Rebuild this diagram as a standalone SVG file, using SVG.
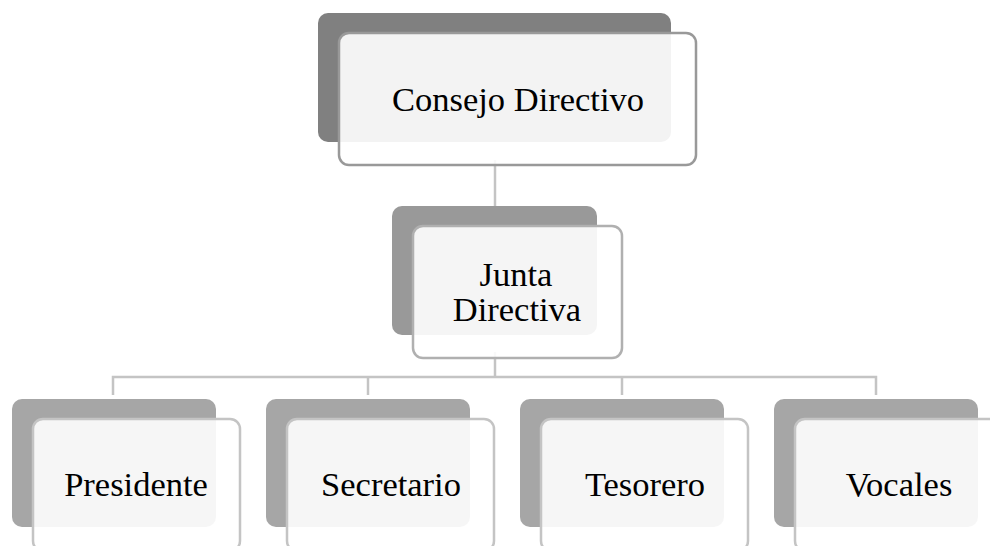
<svg xmlns="http://www.w3.org/2000/svg" width="990" height="546" viewBox="0 0 990 546">
<style>
.conn{fill:none;stroke:#c4c4c4;stroke-width:2.5}
.front{fill:#ffffff;fill-opacity:0.9;stroke-width:2.5}
.lbl{font-family:"Liberation Serif","Times New Roman",serif;font-size:34.5px;fill:#000;text-anchor:middle}
</style>
<rect width="990" height="546" fill="#ffffff"/>
<g id="connectors">
<line class="conn" x1="495" y1="160" x2="495" y2="210"/>
<polyline class="conn" points="495,352 495,377"/>
<polyline class="conn" points="113,395 113,377 876,377 876,395"/>
<line class="conn" x1="368" y1="377" x2="368" y2="395"/>
<line class="conn" x1="622" y1="377" x2="622" y2="395"/>
</g>
<g id="consejo">
<rect x="318" y="13" width="353" height="129" rx="10" fill="#808080"/>
<rect class="front" x="339" y="33" width="357" height="132" rx="10" stroke="#999999"/>
<text class="lbl" x="518" y="111">Consejo Directivo</text>
</g>
<g id="junta">
<rect x="392" y="206" width="205" height="129" rx="10" fill="#999999"/>
<rect class="front" x="413" y="226" width="209" height="132" rx="10" stroke="#b0b0b0"/>
<text class="lbl" x="516" y="286">Junta</text>
<text class="lbl" x="517" y="321">Directiva</text>
</g>
<g id="presidente">
<rect x="12" y="399" width="204" height="128" rx="10" fill="#a6a6a6"/>
<rect class="front" x="33" y="419" width="207" height="132" rx="10" stroke="#c4c4c4"/>
<text class="lbl" x="136" y="496">Presidente</text>
</g>
<g id="secretario">
<rect x="266" y="399" width="204" height="128" rx="10" fill="#a6a6a6"/>
<rect class="front" x="287" y="419" width="207" height="132" rx="10" stroke="#c4c4c4"/>
<text class="lbl" x="391" y="496">Secretario</text>
</g>
<g id="tesorero">
<rect x="520" y="399" width="204" height="128" rx="10" fill="#a6a6a6"/>
<rect class="front" x="541" y="419" width="207" height="132" rx="10" stroke="#c4c4c4"/>
<text class="lbl" x="645" y="496">Tesorero</text>
</g>
<g id="vocales">
<rect x="774" y="399" width="204" height="128" rx="10" fill="#a6a6a6"/>
<rect class="front" x="795" y="419" width="207" height="132" rx="10" stroke="#c4c4c4"/>
<text class="lbl" x="899" y="496">Vocales</text>
</g>
</svg>
